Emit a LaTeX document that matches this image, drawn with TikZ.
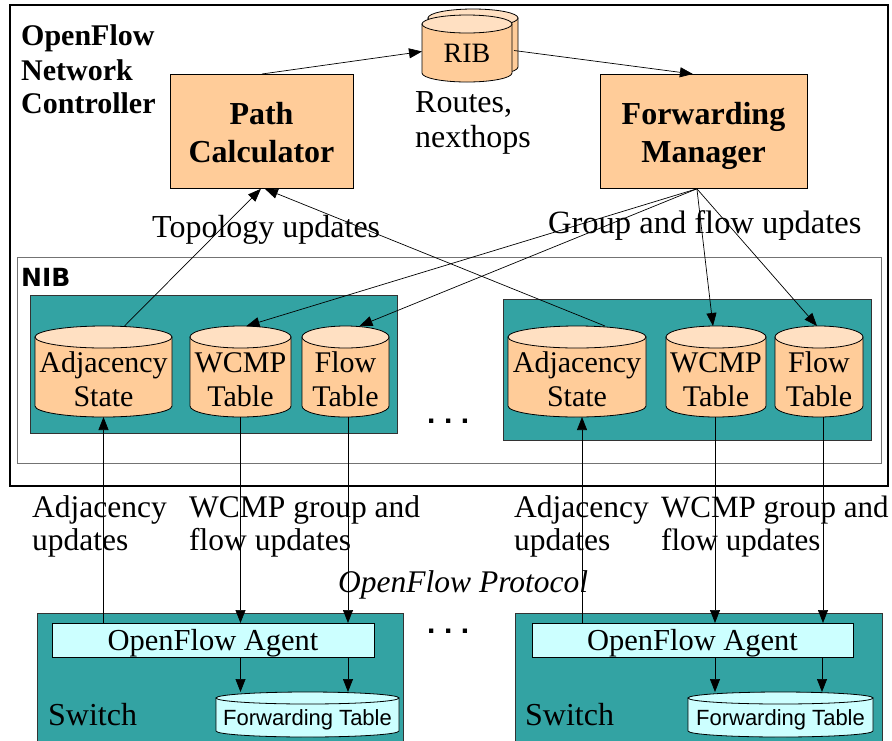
\documentclass[tikz,border=0pt]{standalone}
\usepackage{fontspec}
\setmainfont{Liberation Serif}
\setsansfont{Liberation Sans}
\newfontfamily\dejab{DejaVu Sans}
\usetikzlibrary{arrows.meta}
\definecolor{orng}{RGB}{255,204,153}
\definecolor{orngtop}{RGB}{255,224,194}
\definecolor{teal2}{RGB}{51,163,163}
\definecolor{lcyan}{RGB}{204,255,255}
\newcommand{\mycyl}[8]{%
  \pgfmathsetmacro\cR{(#3-#2)/2}%
  \pgfmathsetmacro\cX{(#3+#2)/2}%
  \pgfmathsetmacro\cT{#4+#6}%
  \pgfmathsetmacro\cB{#5-#6}%
  \pgfmathsetmacro\cH{#5-#4}%
  \filldraw[fill=#7,line width=0.8pt] (#2,\cT) -- (#2,\cB) arc[start angle=180,end angle=360,x radius=\cR pt,y radius=#6pt] -- (#3,\cT) -- cycle;
  \filldraw[fill=#8,line width=0.8pt] (\cX,\cT) ellipse[x radius=\cR pt,y radius=#6pt];
  \node[inner sep=0pt,outer sep=0pt,minimum width=2*\cR pt,minimum height=\cH pt,anchor=north] (#1) at (\cX,#4) {};
}
\begin{document}
\begin{tikzpicture}[x=1pt,y=-1pt,
  arr/.style={-{Triangle[length=13pt,width=10pt]},line width=0.7pt},
  conn/.style={line width=0.7pt},
  lbl/.style={anchor=base west,inner sep=0pt,font=\fontsize{31.5}{34}\selectfont},
  ctext/.style={anchor=base,inner sep=0pt,font=\fontsize{30}{34}\selectfont},
  btext/.style={anchor=base,inner sep=0pt,font=\fontsize{32}{34}\selectfont\bfseries},
  obox/.style={draw=black,fill=orng,line width=0.8pt},
  panel/.style={draw=black!80,fill=teal2,line width=0.8pt},
  dotsty/.style={anchor=base west,inner sep=0pt,font=\fontsize{30}{30}\selectfont\sffamily\bfseries}]
\useasboundingbox (0,0) rectangle (892,740);
\fill[white] (0,0) rectangle (892,740);

% controller and NIB frames
\draw[line width=2pt] (10,5) rectangle (888,486);
\draw[black!55,line width=1pt] (17,257) rectangle (881,463);
\node[anchor=base west,inner sep=0pt,font=\fontsize{25}{25}\selectfont\dejab\bfseries] (nib) at (21,286) {NIB};

\node[anchor=base west,inner sep=0pt,font=\fontsize{30}{34}\selectfont\bfseries] (ctl1) at (21,45) {OpenFlow};
\node[anchor=base west,inner sep=0pt,font=\fontsize{30}{34}\selectfont\bfseries] (ctl2) at (21,80) {Network};
\node[anchor=base west,inner sep=0pt,font=\fontsize{30}{34}\selectfont\bfseries] (ctl3) at (21,113) {Controller};

% Path calculator & forwarding manager
\node[obox,minimum width=183pt,minimum height=114pt,anchor=north west,inner sep=0pt] (pc) at (170,74) {};
\node[btext] (pct1) at (261.5,124) {Path};
\node[btext] (pct2) at (261.5,162) {Calculator};
\node[obox,minimum width=207pt,minimum height=114pt,anchor=north west,inner sep=0pt] (fm) at (600,74) {};
\node[btext] (fmt1) at (703.5,124) {Forwarding};
\node[btext] (fmt2) at (703.5,162) {Manager};

% RIB
\mycyl{ribback}{428}{518}{9}{76}{9}{orng}{orngtop}
\mycyl{rib}{422}{512}{15}{82}{9}{orng}{orngtop}
\node[anchor=base,inner sep=0pt,font=\fontsize{28}{30}\selectfont] (ribt) at (467,62) {RIB};
\node[lbl,font=\fontsize{32}{35}\selectfont] (rt1) at (415,112) {Routes,};
\node[lbl,font=\fontsize{32}{35}\selectfont] (rt2) at (415,147) {nexthops};

% NIB panels
\node[panel,minimum width=367pt,minimum height=138pt,anchor=north west,inner sep=0pt] (panL) at (30,295) {};
\node[panel,minimum width=368pt,minimum height=141pt,anchor=north west,inner sep=0pt] (panR) at (503,299) {};

\mycyl{adjL}{35}{172}{326}{417}{11}{orng}{orngtop}
\mycyl{wcmpL}{190}{291}{326}{417}{11}{orng}{orngtop}
\mycyl{flowL}{302}{389}{326}{417}{11}{orng}{orngtop}
\mycyl{adjR}{508}{646}{326}{417}{11}{orng}{orngtop}
\mycyl{wcmpR}{666}{766}{326}{417}{11}{orng}{orngtop}
\mycyl{flowR}{775}{863}{326}{417}{11}{orng}{orngtop}

\node[ctext] (adjLt1) at (103.5,372) {Adjacency};
\node[ctext] (adjLt2) at (103.5,406) {State};
\node[ctext] (wcmpLt1) at (240.5,372) {WCMP};
\node[ctext] (wcmpLt2) at (240.5,406) {Table};
\node[ctext] (flowLt1) at (345.5,372) {Flow};
\node[ctext] (flowLt2) at (345.5,406) {Table};
\node[ctext] (adjRt1) at (577,372) {Adjacency};
\node[ctext] (adjRt2) at (577,406) {State};
\node[ctext] (wcmpRt1) at (716,372) {WCMP};
\node[ctext] (wcmpRt2) at (716,406) {Table};
\node[ctext] (flowRt1) at (819,372) {Flow};
\node[ctext] (flowRt2) at (819,406) {Table};

\node[dotsty] (dots1) at (427,423) {.\hspace{8.5pt}.\hspace{8.5pt}.};

% labels in controller
\node[lbl,font=\fontsize{32}{34}\selectfont] (topo) at (152,237) {Topology updates};
\node[lbl,font=\fontsize{32.5}{34}\selectfont] (gfu) at (548,233) {Group and flow updates};

% controller arrows
\draw[arr] (pc.north) -- ([yshift=-3pt]rib.west);
\draw[arr] ([xshift=2pt,yshift=-2pt]rib.east) -- ([xshift=-11pt]fm.north);
\draw[arr] ([xshift=21pt]adjL.north) -- ([xshift=-1pt]pc.south);
\draw[arr] ([xshift=28pt]adjR.north) -- ([xshift=3pt]pc.south);
\draw[arr] ([xshift=-7pt]fm.south) -- ([xshift=6pt]wcmpL.north);
\draw[arr] ([xshift=-7pt]fm.south) -- ([xshift=14pt]flowL.north);
\draw[arr] ([xshift=-7pt]fm.south) -- ([xshift=-3pt]wcmpR.north);
\draw[arr] ([xshift=-7pt]fm.south) -- ([xshift=-2pt]flowR.north);

% switches
\node[panel,minimum width=366pt,minimum height=140pt,anchor=north west,inner sep=0pt] (swL) at (37,613) {};
\node[panel,minimum width=367pt,minimum height=140pt,anchor=north west,inner sep=0pt] (swR) at (515,613) {};
\node[draw=black,fill=lcyan,line width=0.8pt,minimum width=322pt,minimum height=34pt,anchor=north west,inner sep=0pt] (agL) at (52,623) {};
\node[draw=black,fill=lcyan,line width=0.8pt,minimum width=321pt,minimum height=34pt,anchor=north west,inner sep=0pt] (agR) at (532,623) {};
\node[anchor=base,inner sep=0pt,font=\fontsize{30.5}{34}\selectfont] (agLt) at (213,650) {OpenFlow Agent};
\node[anchor=base,inner sep=0pt,font=\fontsize{30.5}{34}\selectfont] (agRt) at (692.5,650) {OpenFlow Agent};

\mycyl{ftL}{216}{399}{692}{737}{6}{lcyan}{lcyan}
\mycyl{ftR}{688}{873}{692}{737}{6}{lcyan}{lcyan}
\node[anchor=base,inner sep=0pt,font=\fontsize{22}{24}\selectfont\sffamily] (ftLt) at (307.5,725) {Forwarding Table};
\node[anchor=base,inner sep=0pt,font=\fontsize{22}{24}\selectfont\sffamily] (ftRt) at (780.5,725) {Forwarding Table};
\node[anchor=base west,inner sep=0pt,font=\fontsize{32}{34}\selectfont] (swLt) at (48,725) {Switch};
\node[anchor=base west,inner sep=0pt,font=\fontsize{32}{34}\selectfont] (swRt) at (525,725) {Switch};
\node[dotsty] (dots2) at (427,633) {.\hspace{8.5pt}.\hspace{8.5pt}.};

% agent -> forwarding table
\draw[arr] (agL.south -| wcmpL.south) -- (ftL.north -| wcmpL.south);
\draw[arr] ([xshift=2.5pt]agL.south -| flowL.south) -- ([xshift=2.5pt]ftL.north -| flowL.south);
\draw[arr] ([xshift=-1pt]agR.south -| wcmpR.south) -- ([xshift=-1pt]ftR.north -| wcmpR.south);
\draw[arr] ([xshift=3pt]agR.south -| flowR.south) -- ([xshift=3pt]ftR.north -| flowR.south);

% vertical openflow lines
\draw[arr] (agL.north -| adjL.south) -- (adjL.south);
\draw[arr] (wcmpL.south) -- (agL.north -| wcmpL.south);
\draw[arr] ([xshift=2.5pt]flowL.south) -- ([xshift=2.5pt]agL.north -| flowL.south);
\draw[arr] ([xshift=5pt]agR.north -| adjR.south) -- ([xshift=5pt]adjR.south);
\draw[arr] ([xshift=-1pt]wcmpR.south) -- ([xshift=-1pt]agR.north -| wcmpR.south);
\draw[arr] ([xshift=4pt]flowR.south) -- ([xshift=4pt]agR.north -| flowR.south);

% bottom labels
\node[lbl] (au1) at (32,517) {Adjacency};
\node[lbl] (au2) at (32,550) {updates};
\node[lbl] (wf1) at (189,517) {WCMP group and};
\node[lbl] (wf2) at (189,550) {flow updates};
\node[lbl] (au3) at (514,517) {Adjacency};
\node[lbl] (au4) at (514,550) {updates};
\node[lbl,font=\fontsize{31}{34}\selectfont] (wf3) at (661,517) {WCMP group and};
\node[lbl,font=\fontsize{31}{34}\selectfont] (wf4) at (661,550) {flow updates};
\node[lbl,font=\fontsize{31.5}{34}\selectfont\itshape] (ofp) at (338,592) {OpenFlow Protocol};
\end{tikzpicture}
\end{document}
